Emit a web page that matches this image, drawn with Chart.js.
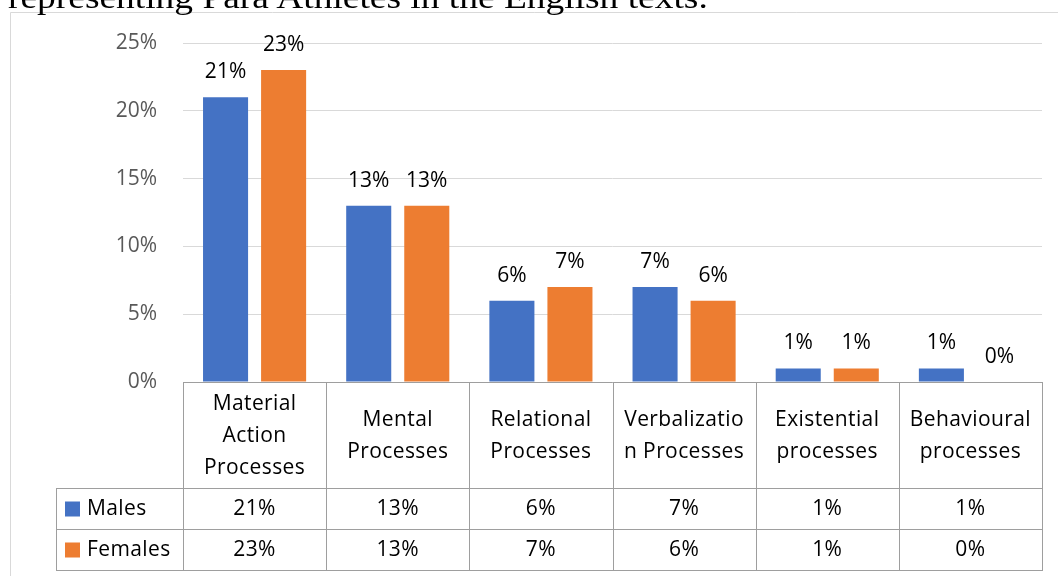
<!DOCTYPE html>
<html>
<head>
<meta charset="utf-8">
<script src="https://cdn.jsdelivr.net/npm/chart.js@4.4.0/dist/chart.umd.min.js"></script>
<style>
html,body{margin:0;padding:0;background:#fff;}
#wrap{position:relative;width:1058px;height:576px;overflow:hidden;background:#fff;}
#cap{position:absolute;left:8px;top:-21px;font-family:"Liberation Serif","Times New Roman",serif;font-size:32px;line-height:36px;color:#000;white-space:nowrap;z-index:2;transform:scaleX(1.17);transform-origin:0 0;}
canvas{position:absolute;left:0;top:0;}
</style>
</head>
<body>
<div id="wrap">
<div id="cap">representing Para Athletes in the English texts.</div>
<canvas id="c" width="1058" height="576"></canvas>
</div>
<script>
const categories = [
  ["Material", "Action", "Processes"],
  ["Mental", "Processes"],
  ["Relational", "Processes"],
  ["Verbalizatio", "n Processes"],
  ["Existential", "processes"],
  ["Behavioural", "processes"]
];
const seriesNames = ["Males", "Females"];
const males = [21, 13, 6, 7, 1, 1];
const females = [23, 13, 7, 6, 1, 0];
const yTicks = [0, 5, 10, 15, 20, 25];
const colors = ["#4472C4", "#ED7D31"];

const FONT = "'Open Sans', Lato, sans-serif";

const framePlugin = {
  id: 'frame',
  beforeDraw(chart) {
    const ctx = chart.ctx;
    ctx.save();
    ctx.fillStyle = '#fff';
    ctx.fillRect(0, 0, chart.width, chart.height);
    ctx.strokeStyle = '#d9d9d9';
    ctx.lineWidth = 1;
    ctx.beginPath();
    ctx.moveTo(10.5, chart.height);
    ctx.lineTo(10.5, 12.5);
    ctx.lineTo(chart.width, 12.5);
    ctx.stroke();
    ctx.restore();
  }
};

const labelPlugin = {
  id: 'vlabels',
  afterDatasetsDraw(chart) {
    const ctx = chart.ctx;
    ctx.save();
    ctx.font = "21px " + FONT;
    ctx.fillStyle = '#000';
    ctx.textAlign = 'center';
    ctx.textBaseline = 'middle';
    chart.data.datasets.forEach((ds, di) => {
      const meta = chart.getDatasetMeta(di);
      meta.data.forEach((bar, i) => {
        ctx.fillText(ds.data[i] + '%', bar.x, bar.y - 25);
      });
    });
    ctx.restore();
  }
};

const tablePlugin = {
  id: 'dtable',
  afterDraw(chart) {
    const ctx = chart.ctx;
    const xs = chart.scales.x;
    const area = chart.chartArea;
    const n = categories.length;
    const cw = (xs.right - xs.left) / n;
    const top = area.bottom;
    const hdrBottom = top + 106;
    const rowH = 41;
    const legLeft = 56;
    const bottom = hdrBottom + rowH * 2;
    ctx.save();
    ctx.strokeStyle = '#9e9e9e';
    ctx.lineWidth = 1;
    ctx.beginPath();
    ctx.moveTo(xs.left, top + 0.5); ctx.lineTo(xs.right, top + 0.5);
    [hdrBottom, hdrBottom + rowH, bottom].forEach(y => {
      ctx.moveTo(legLeft, y + 0.5); ctx.lineTo(xs.right, y + 0.5);
    });
    for (let i = 0; i <= n; i++) {
      const x = Math.round(xs.left + cw * i) + 0.5;
      ctx.moveTo(x, top); ctx.lineTo(x, bottom + 1);
    }
    ctx.moveTo(legLeft + 0.5, hdrBottom); ctx.lineTo(legLeft + 0.5, bottom + 1);
    ctx.stroke();

    ctx.fillStyle = '#000';
    ctx.textAlign = 'center';
    ctx.textBaseline = 'middle';
    ctx.font = "21px " + FONT;
    try { ctx.letterSpacing = '0.4px'; } catch (e) {}
    const lh = 32;
    categories.forEach((lines, i) => {
      const cx = xs.getPixelForValue(i);
      const cy = (top + hdrBottom) / 2 + 1;
      const y0 = cy - (lines.length - 1) * lh / 2;
      lines.forEach((t, k) => ctx.fillText(t, cx, y0 + k * lh));
    });
    const rows = [males, females];
    rows.forEach((vals, r) => {
      const cy = hdrBottom + rowH * r + rowH / 2 + 1;
      vals.forEach((v, i) => {
        ctx.fillText(v + '%', xs.getPixelForValue(i), cy);
      });
      ctx.fillStyle = colors[r];
      ctx.fillRect(65, cy - 8, 15, 15);
      ctx.fillStyle = '#000';
      ctx.textAlign = 'left';
      ctx.fillText(seriesNames[r], 87, cy);
      ctx.textAlign = 'center';
    });
    ctx.restore();
  }
};

new Chart(document.getElementById('c'), {
  type: 'bar',
  data: {
    labels: categories.map(c => c.join(' ')),
    datasets: [
      { label: seriesNames[0], data: males, backgroundColor: colors[0] },
      { label: seriesNames[1], data: females, backgroundColor: colors[1] }
    ]
  },
  options: {
    responsive: false,
    animation: false,
    devicePixelRatio: 1,
    categoryPercentage: 0.811,
    barPercentage: 0.776,
    layout: { padding: { top: 43, right: 16, left: 0, bottom: 0 } },
    plugins: { legend: { display: false }, tooltip: { enabled: false } },
    scales: {
      x: {
        ticks: { display: false },
        grid: { display: false },
        border: { display: false },
        afterFit(s) { s.height = 194; }
      },
      y: {
        min: 0, max: 25,
        afterBuildTicks(s) { s.ticks = yTicks.map(v => ({ value: v })); },
        ticks: {
          padding: 26,
          color: '#595959',
          font: { family: FONT, size: 21 },
          callback: v => v + '%'
        },
        grid: { color: '#d9d9d9', drawTicks: false, lineWidth: 1 },
        border: { display: false },
        afterFit(s) { s.width = 183; }
      }
    }
  },
  plugins: [framePlugin, labelPlugin, tablePlugin]
});
</script>
</body>
</html>
